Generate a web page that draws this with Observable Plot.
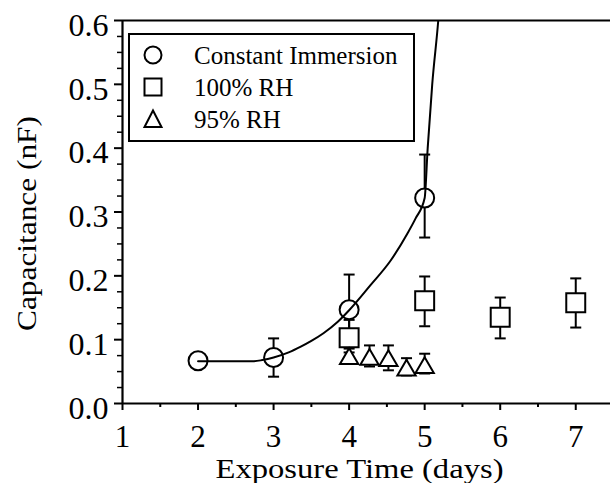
<!DOCTYPE html>
<html>
<head>
<meta charset="utf-8">
<script src="https://cdn.jsdelivr.net/npm/d3@7"></script>
<script src="https://cdn.jsdelivr.net/npm/@observablehq/plot@0.6"></script>
<style>
  html, body { margin: 0; padding: 0; background: #fff; }
  #wrap { position: relative; width: 610px; height: 483px; font-family: "Liberation Serif", "Times New Roman", serif; }
  #chart svg, #chart svg text { font-family: "Liberation Serif", "Times New Roman", serif !important; }
  #legend { position: absolute; left: 128px; top: 33px; width: 287px; height: 109px; box-sizing: border-box;
            border: 2px solid #000; background: #fff; padding-top: 4px; }
  .row { display: flex; align-items: center; height: 32px; }
  .row svg { margin-left: 12px; width: 22px; height: 22px; flex: none; }
  .row span { margin-left: 30px; font-size: 25px; color: #000; line-height: 1; }
</style>
</head>
<body>
<div id="wrap"><div id="chart"></div><div id="legend"></div></div>
<script>
// ---- data ----
const seriesNames = ["Constant Immersion", "100% RH", "95% RH"];

const immDays = [2, 3, 4, 5];
const immCap  = [0.067, 0.072, 0.147, 0.322];
const immLo   = [null, 0.042, 0.092, 0.260];
const immHi   = [null, 0.102, 0.202, 0.390];

const rh100Days = [4, 5, 6, 7];
const rh100Cap  = [0.103, 0.161, 0.135, 0.158];
const rh100Lo   = [0.080, 0.121, 0.102, 0.119];
const rh100Hi   = [0.131, 0.199, 0.166, 0.196];

const rh95Days = [4, 4.27, 4.52, 4.76, 5];
const rh95Cap  = [0.070, 0.069, 0.067, 0.052, 0.056];
const rh95Lo   = [0.063, 0.058, 0.052, 0.044, 0.047];
const rh95Hi   = [0.086, 0.091, 0.091, 0.071, 0.078];

// fitted curve through the constant-immersion points
const fitDays = [2, 2.5, 2.72, 2.85, 3.0, 3.2, 3.36, 3.5, 3.66, 3.85, 4.0, 4.28, 4.55, 4.77, 4.88, 5.0, 5.04, 5.1, 5.18, 5.2];
const fitCap  = [0.066, 0.066, 0.066, 0.068, 0.072, 0.080, 0.089, 0.098, 0.110, 0.128, 0.146, 0.185, 0.224, 0.266, 0.290, 0.322, 0.40, 0.50, 0.60, 0.63];

const xTicks = [1, 2, 3, 4, 5, 6, 7];
const xMinor = [1.5, 2.5, 3.5, 4.5, 5.5, 6.5];
const yTicks = [0, 0.1, 0.2, 0.3, 0.4, 0.5, 0.6];
const yMinor = d3.range(1, 24).map(i => i * 0.025).filter(v => Math.abs(v * 10 - Math.round(v * 10)) > 1e-6);

const xTitle = "Exposure Time (days)";
const yTitle = "Capacitance (nF)";

// ---- build tables ----
const toRows = (xs, ys, lo, hi) => xs.map((x, i) => ({x, y: ys[i], lo: lo[i], hi: hi[i]}));
const imm = toRows(immDays, immCap, immLo, immHi);
const rh100 = toRows(rh100Days, rh100Cap, rh100Lo, rh100Hi);
const rh95 = toRows(rh95Days, rh95Cap, rh95Lo, rh95Hi);
const fit = fitDays.map((x, i) => ({x, y: fitCap[i]}));
const withErr = [...imm, ...rh100, ...rh95].filter(d => d.lo != null);

const capSymbol = {
  draw(context, size) {
    const w = Math.sqrt(size / Math.PI);
    context.moveTo(-w, 0);
    context.lineTo(w, 0);
  }
};

const serif = "Liberation Serif";

const chart = Plot.plot({
  width: 610,
  height: 483,
  marginLeft: 122,
  marginRight: 0,
  marginTop: 20,
  marginBottom: 80,
  style: {fontFamily: serif, fontSize: "32px", color: "#000", background: "#fff"},
  x: {domain: [1, 7.46]},
  y: {domain: [0, 0.6]},
  marks: [
    // error bars
    Plot.ruleX(withErr, {x: "x", y1: "lo", y2: "hi", stroke: "#000", strokeWidth: 2}),
    Plot.dot(withErr, {x: "x", y: "hi", symbol: capSymbol, r: 5.5, fill: "none", stroke: "#000", strokeWidth: 2}),
    Plot.dot(withErr, {x: "x", y: "lo", symbol: capSymbol, r: 5.5, fill: "none", stroke: "#000", strokeWidth: 2}),
    // points
    Plot.dot(imm, {x: "x", y: "y", symbol: "circle", r: 9.5, fill: "#fff", stroke: "#000", strokeWidth: 2}),
    Plot.dot(rh100, {x: "x", y: "y", symbol: "square", r: 10.7, fill: "#fff", stroke: "#000", strokeWidth: 2}),
    Plot.dot(rh95, {x: "x", y: "y", symbol: "triangle", r: 6.8, fill: "#fff", stroke: "#000", strokeWidth: 2}),
    // fitted curve
    Plot.line(fit, {x: "x", y: "y", curve: "monotone-x", stroke: "#000", strokeWidth: 2, clip: true}),
    // frame lines
    Plot.ruleY([0, 0.6], {stroke: "#000", strokeWidth: 2.2}),
    Plot.ruleX([1], {stroke: "#000", strokeWidth: 2.2}),
    // axes
    Plot.axisX(xTicks, {anchor: "bottom", tickSize: 7, tickPadding: 14, strokeWidth: 2, label: null, fontFamily: serif, fontSize: 31}),
    Plot.axisX(xMinor, {anchor: "bottom", tickSize: 4, tickFormat: () => "", strokeWidth: 2, label: null}),
    Plot.axisY(yTicks, {anchor: "left", tickSize: 8, tickFormat: () => "", strokeWidth: 2, label: null}),
    Plot.axisY(yMinor, {anchor: "left", tickSize: 5, tickFormat: () => "", strokeWidth: 1.5, label: null}),
    Plot.axisY(yTicks, {anchor: "left", tickSize: 0, tickPadding: 14, dy: 5, tickFormat: d3.format(".1f"), label: null, fontFamily: serif, fontSize: 32}),
    // titles
    Plot.text([xTitle], {frameAnchor: "bottom", text: d => d, textAnchor: "middle", lineAnchor: "middle", dx: -7, dy: 65.4, fontSize: 27, fontFamily: serif, className: "xtitle"}),
    Plot.text([yTitle], {frameAnchor: "left", text: d => d, rotate: -90, textAnchor: "middle", lineAnchor: "middle", dx: -95, dy: 11.5, fontSize: 28, fontFamily: serif, className: "ytitle"})
  ]
});
// the scanned reference is slightly stretched: widen the titles to its measured lengths
d3.select(chart).selectAll(".xtitle text").attr("textLength", 288).attr("lengthAdjust", "spacingAndGlyphs");
d3.select(chart).selectAll(".ytitle text").attr("textLength", 215).attr("lengthAdjust", "spacingAndGlyphs");
document.getElementById("chart").appendChild(chart);

// ---- legend (HTML overlay) ----
const legendShapes = [
  '<circle cx="11" cy="11" r="8.5" fill="#fff" stroke="#000" stroke-width="2"/>',
  '<rect x="2.5" y="2.5" width="17" height="17" fill="#fff" stroke="#000" stroke-width="2"/>',
  '<path d="M11 2.5 L19.5 19 L2.5 19 Z" fill="#fff" stroke="#000" stroke-width="2" stroke-linejoin="miter"/>'
];
const legend = document.getElementById("legend");
seriesNames.forEach((name, i) => {
  const row = document.createElement("div");
  row.className = "row";
  row.innerHTML = `<svg viewBox="0 0 22 22">${legendShapes[i]}</svg><span></span>`;
  row.querySelector("span").textContent = name;
  legend.appendChild(row);
});
</script>
</body>
</html>
